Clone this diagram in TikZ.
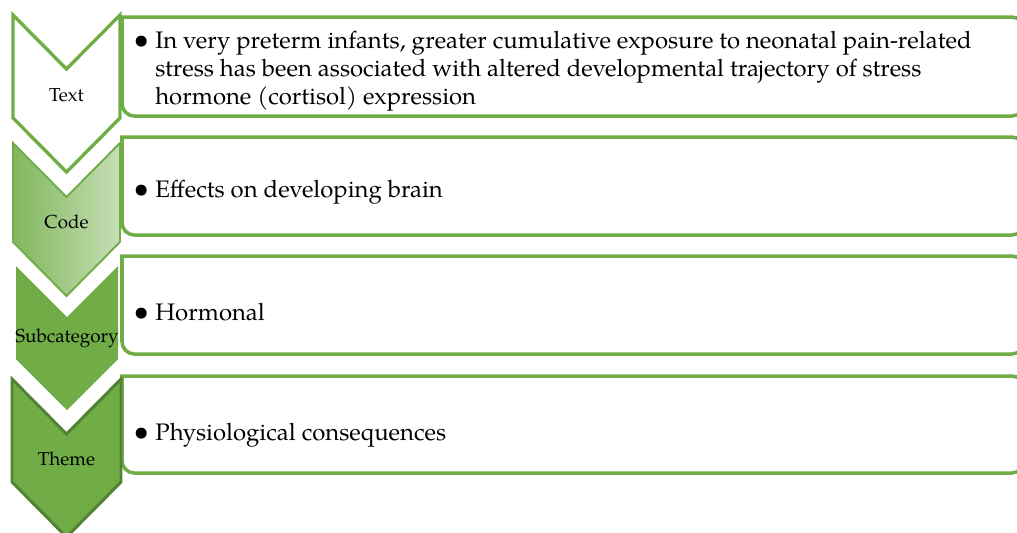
\documentclass[tikz,border=0pt]{standalone}
\usepackage{fontspec}
\setmainfont{TeX Gyre Pagella}
\usepackage{xcolor}
\usepackage{tikz}

\definecolor{leafgreen}{HTML}{70AD47}
\definecolor{darkleaf}{HTML}{548235}
\newcommand{\itembullet}{\makebox[10.8pt][l]{\hspace{-1.6pt}\scalebox{1.15}{\textbullet}}}

\begin{document}
\begin{tikzpicture}[x=0.02cm, y=-0.02cm,
        itembox/.style={draw=leafgreen, line width=2pt, fill=white},
        tag/.style={inner sep=0pt, font=\fontsize{10.7}{12}\selectfont},
        itemtext/.style={anchor=base west, inner sep=0pt, font=\fontsize{13.6}{16}\selectfont}]
        \useasboundingbox (0,0) rectangle (1017,532);
        \clip (0,0) rectangle (1017,532);

        % Item boxes (right ends run past the page edge)
        \draw[itembox] (122,17) [rounded corners=7pt] -- (1024,17) -- (1024,116) -- (122,116) [sharp corners] -- cycle;
        \draw[itembox] (122,137) [rounded corners=7pt] -- (1024,137) -- (1024,235) -- (122,235) [sharp corners] -- cycle;
        \draw[itembox] (122,256) [rounded corners=7pt] -- (1024,256) -- (1024,354) -- (122,354) [sharp corners] -- cycle;
        \draw[itembox] (122,376) [rounded corners=7pt] -- (1024,376) -- (1024,473) -- (122,473) [sharp corners] -- cycle;

        % Chevron column
        \draw[draw=leafgreen, line width=1.9pt, fill=white] (13,15) -- (66.5,69) -- (120,15) -- (120,118) -- (66.5,172) -- (13,118) -- cycle;
        \draw[draw=leafgreen, line width=1.1pt, left color=leafgreen!88!white, right color=leafgreen!40!white] (13,143) -- (66.5,197) -- (120,143) -- (120,242) -- (66.5,296) -- (13,242) -- cycle;
        \fill[leafgreen] (16,266) -- (67,317) -- (118,266) -- (118,359) -- (67,410) -- (16,359) -- cycle;
        \draw[draw=darkleaf, line width=1.7pt, fill=leafgreen] (12,379) -- (66.5,434) -- (121,379) -- (121,482) -- (66.5,537) -- (12,482) -- cycle;

        \node[tag] (tagtext) at (66.5,95) {Text};
        \node[tag] (tagcode) at (66.5,222) {Code};
        \node[tag] (tagsub) at (67,338) {Subcategory};
        \node[tag] (tagtheme) at (66.5,459) {Theme};

        % Item texts
        \node[itemtext] (itemtext) at (136,48) {\begin{tabular}[t]{@{}l@{}l@{}}
            \itembullet & In very preterm infants, greater cumulative exposure to neonatal pain-related\\
            & stress has been associated with altered developmental trajectory of stress\\
            & hormone (cortisol) expression
        \end{tabular}};
        \node[itemtext] (itemcode) at (136,197) {\itembullet Effects on developing brain};
        \node[itemtext] (itemsub) at (136,320) {\itembullet Hormonal};
        \node[itemtext] (itemtheme) at (136,440) {\itembullet Physiological consequences};
    \end{tikzpicture}
\end{document}
